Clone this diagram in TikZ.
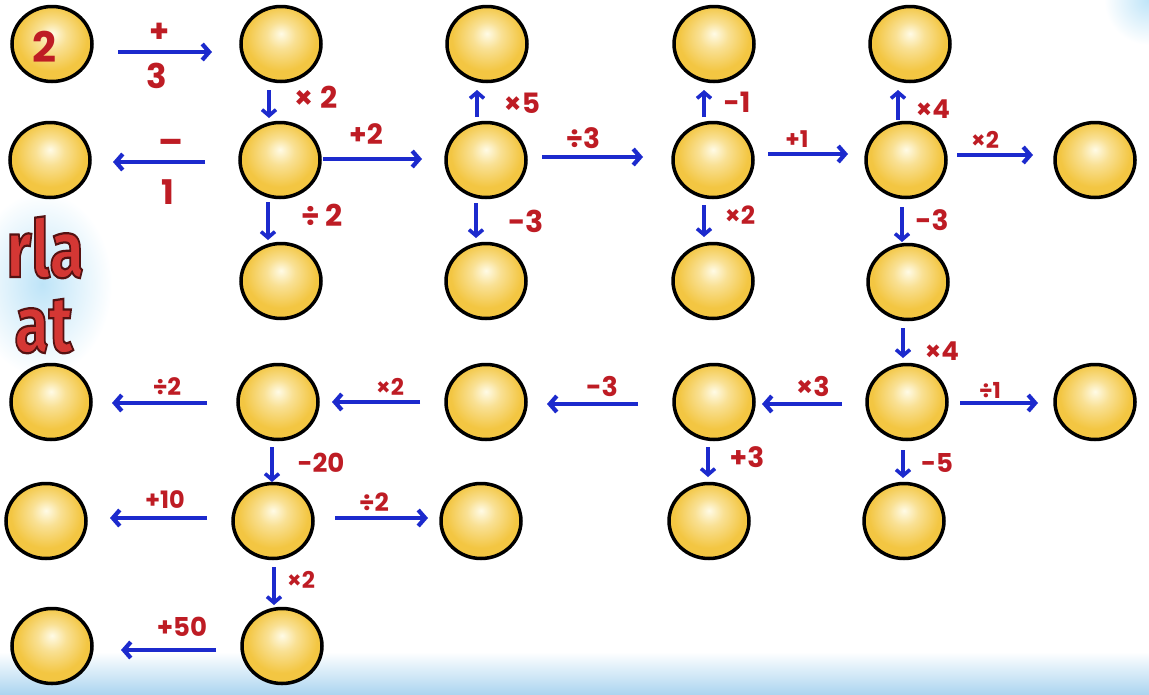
\documentclass[tikz,border=0pt]{standalone}
\usepackage{fontspec}
\setmainfont{Poppins}
\newfontfamily\sidefont{Fira Sans}
\usetikzlibrary{shapes.geometric,arrows.meta}
\definecolor{ballY}{RGB}{243,198,66}
\definecolor{ballW}{RGB}{255,251,230}
\definecolor{arrB}{RGB}{28,42,205}
\definecolor{labR}{RGB}{190,28,36}
\definecolor{glowB}{RGB}{190,228,248}
\definecolor{bandB}{RGB}{172,213,240}
\definecolor{bigR}{RGB}{212,55,52}
\pgfdeclareradialshading{ballsh}{\pgfpoint{0bp}{7bp}}{color(0bp)=(ballW); color(9bp)=(ballW!50!ballY); color(22bp)=(ballY); color(50bp)=(ballY)}
\newcommand{\strokedtext}[1]{\special{pdf:literal direct 2 Tr 2.2 w 0.33 0.07 0.07 RG}#1\special{pdf:literal direct 0 Tr}}
\begin{document}
\begin{tikzpicture}[x=1pt,y=-1pt,
  ball/.style={ellipse, draw=black, line width=3.5pt, minimum width=80pt, minimum height=75pt, inner sep=0pt, outer sep=0pt, shading=ballsh},
  arr/.style={draw=arrB, line width=4.2pt, -{Straight Barb[length=7pt,width=16pt]}},
  varr/.style={draw=arrB, line width=3.6pt, -{Straight Barb[length=6pt,width=14pt]}},
  lab/.style={text=labR, font=\bfseries\fontsize{#1}{#1}\selectfont, inner sep=0pt},
  lab/.default=24,
  side/.style={anchor=base east, inner sep=0pt, font=\sidefont\bfseries\fontsize{80}{80}\selectfont, xscale=0.78, text=bigR}
]
\useasboundingbox (0,0) rectangle (1149,694);
\fill[white] (0,0) rectangle (1149,694);
\shade[top color=white, bottom color=bandB] (0,652) rectangle (1149,694);
\shade[inner color=glowB, outer color=white] (1149,0) circle (45);

% soft glow behind the cropped side text
\shade[inner color=glowB, outer color=white] (42,284) ellipse (70 and 92);

\node[side] (s1) at (84,277) {\strokedtext{rla}};
\node[side] (s2) at (73,352) {\strokedtext{at}};

% balls
\node[ball] (a1) at (52,44) {};
\node[ball] (a2) at (281,44) {};
\node[ball] (a3) at (487,44) {};
\node[ball] (a4) at (714,44) {};
\node[ball] (a5) at (910,44) {};
\node[ball] (b1) at (50,160) {};
\node[ball] (b2) at (280,160) {};
\node[ball] (b3) at (486,160) {};
\node[ball] (b4) at (713,160) {};
\node[ball] (b5) at (906,160) {};
\node[ball] (b6) at (1095,160) {};
\node[ball] (c2) at (281,281) {};
\node[ball] (c3) at (486,281) {};
\node[ball] (c4) at (713,281) {};
\node[ball] (c5) at (908,282) {};
\node[ball] (d1) at (51,402) {};
\node[ball] (d2) at (278,402) {};
\node[ball] (d3) at (486,402) {};
\node[ball] (d4) at (714,402) {};
\node[ball] (d5) at (907,402) {};
\node[ball] (d6) at (1095,402) {};
\node[ball] (e1) at (46,521) {};
\node[ball] (e2) at (273,521) {};
\node[ball] (e3) at (481,521) {};
\node[ball] (e4) at (709,521) {};
\node[ball] (e5) at (904,521) {};
\node[ball] (f1) at (52,646) {};
\node[ball] (f2) at (282,646) {};

\node[lab=42] (l0) at (44,47) {2};

% horizontal arrows
\draw[arr, shorten <=26pt, shorten >=29pt] ([yshift=-8pt]a1.east) -- ([yshift=-8pt]a2.west);
\draw[arr, shorten <=35pt, shorten >=23pt] ([yshift=-2pt]b2.west) -- ([yshift=-2pt]b1.east);
\draw[arr, shorten <=3pt, shorten >=24pt] ([yshift=1pt]b2.east) -- ([yshift=1pt]b3.west);
\draw[arr, shorten <=16pt, shorten >=30pt] ([yshift=3pt]b3.east) -- ([yshift=3pt]b4.west);
\draw[arr, shorten <=15pt, shorten >=18pt] ([yshift=6pt]b4.east) -- ([yshift=6pt]b5.west);
\draw[arr, shorten <=11pt, shorten >=22pt] ([yshift=5pt]b5.east) -- ([yshift=5pt]b6.west);
\draw[arr, shorten <=25pt, shorten >=8pt] ([yshift=-2pt]d5.west) -- ([yshift=-2pt]d4.east);
\draw[arr, shorten <=36pt, shorten >=21pt] ([yshift=-2pt]d4.west) -- ([yshift=-2pt]d3.east);
\draw[arr, shorten <=26pt, shorten >=14pt] (d3.west) -- (d2.east);
\draw[arr, shorten <=31pt, shorten >=21pt] ([yshift=-1pt]d2.west) -- ([yshift=-1pt]d1.east);
\draw[arr, shorten <=13pt, shorten >=17pt] ([yshift=-1pt]d5.east) -- ([yshift=-1pt]d6.west);
\draw[arr, shorten <=26pt, shorten >=24pt] ([yshift=3pt]e2.west) -- ([yshift=3pt]e1.east);
\draw[arr, shorten <=22pt, shorten >=13pt] ([yshift=3pt]e2.east) -- ([yshift=3pt]e3.west);
\draw[arr, shorten <=26pt, shorten >=29pt] ([yshift=-4pt]f2.west) -- ([yshift=-4pt]f1.east);

% vertical arrows
\draw[varr, shorten <=8.5pt, shorten >=4.5pt] ([xshift=-12pt]a2.south) -- ([xshift=-11pt]b2.north);
\draw[varr, shorten <=4.5pt, shorten >=3.5pt] ([xshift=-12pt]b2.south) -- ([xshift=-13pt]c2.north);
\draw[varr, shorten <=5.5pt, shorten >=8.5pt] ([xshift=-9pt]b3.north) -- ([xshift=-10pt]a3.south);
\draw[varr, shorten <=5.5pt, shorten >=5.5pt] ([xshift=-10pt]b3.south) -- ([xshift=-10pt]c3.north);
\draw[varr, shorten <=5.5pt, shorten >=8.5pt] ([xshift=-9pt]b4.north) -- ([xshift=-10pt]a4.south);
\draw[varr, shorten <=7.5pt, shorten >=6.5pt] ([xshift=-9pt]b4.south) -- ([xshift=-9pt]c4.north);
\draw[varr, shorten <=2.5pt, shorten >=8.5pt] ([xshift=-8pt]b5.north) -- ([xshift=-12pt]a5.south);
\draw[varr, shorten <=9.5pt, shorten >=2.5pt] ([xshift=-4pt]b5.south) -- ([xshift=-6pt]c5.north);
\draw[varr, shorten <=8.5pt, shorten >=6.5pt] ([xshift=-5pt]c5.south) -- ([xshift=-4pt]d5.north);
\draw[varr, shorten <=10.5pt, shorten >=5.5pt] ([xshift=-4pt]d5.south) -- ([xshift=-1pt]e5.north);
\draw[varr, shorten <=7.5pt, shorten >=6.5pt] ([xshift=-6pt]d4.south) -- ([xshift=-1pt]e4.north);
\draw[varr, shorten <=7.5pt, shorten >=1.5pt] ([xshift=-6pt]d2.south) -- ([xshift=-1pt]e2.north);
\draw[varr, shorten <=8.5pt, shorten >=3.5pt] ([xshift=1pt]e2.south) -- ([xshift=-8pt]f2.north);

% labels
\node[lab=32] (l1) at (160,33) {+};
\node[lab=34] (l2) at (157,76) {3};
\node[lab=36] (l3) at (171,147) {–};
\node[lab=34] (l4) at (168,192) {1};
\node[lab=30] (l5) at (316,97) {× 2};
\node[lab=28] (l6) at (366,134) {+2};
\node[lab=30] (l7) at (322,215) {÷ 2};
\node[lab=28] (l8) at (522,103) {×5};
\node[lab=28] (l9) at (583,138) {÷3};
\node[lab=30] (l10) at (526,221) {-3};
\node[lab=28] (l11) at (737,102) {-1};
\node[lab=25] (l12) at (740,215) {×2};
\node[lab=23] (l13) at (797,139) {+1};
\node[lab=26] (l14) at (933,109) {×4};
\node[lab=23] (l15) at (985,140) {×2};
\node[lab=28] (l16) at (932,220) {-3};
\node[lab=26] (l17) at (942,351) {×4};
\node[lab=27] (l18) at (813,386) {×3};
\node[lab=27] (l19) at (602,386) {-3};
\node[lab=23] (l20) at (390,387) {×2};
\node[lab=24] (l21) at (167,387) {÷2};
\node[lab=22] (l22) at (990,390) {÷1};
\node[lab=26] (l23) at (937,463) {-5};
\node[lab=28] (l24) at (747,457) {+3};
\node[lab=26] (l25) at (321,463) {-20};
\node[lab=24] (l26) at (165,500) {+10};
\node[lab=25] (l27) at (374,502) {÷2};
\node[lab=23] (l28) at (301,580) {×2};
\node[lab=26] (l29) at (182,627) {+50};
\end{tikzpicture}
\end{document}
